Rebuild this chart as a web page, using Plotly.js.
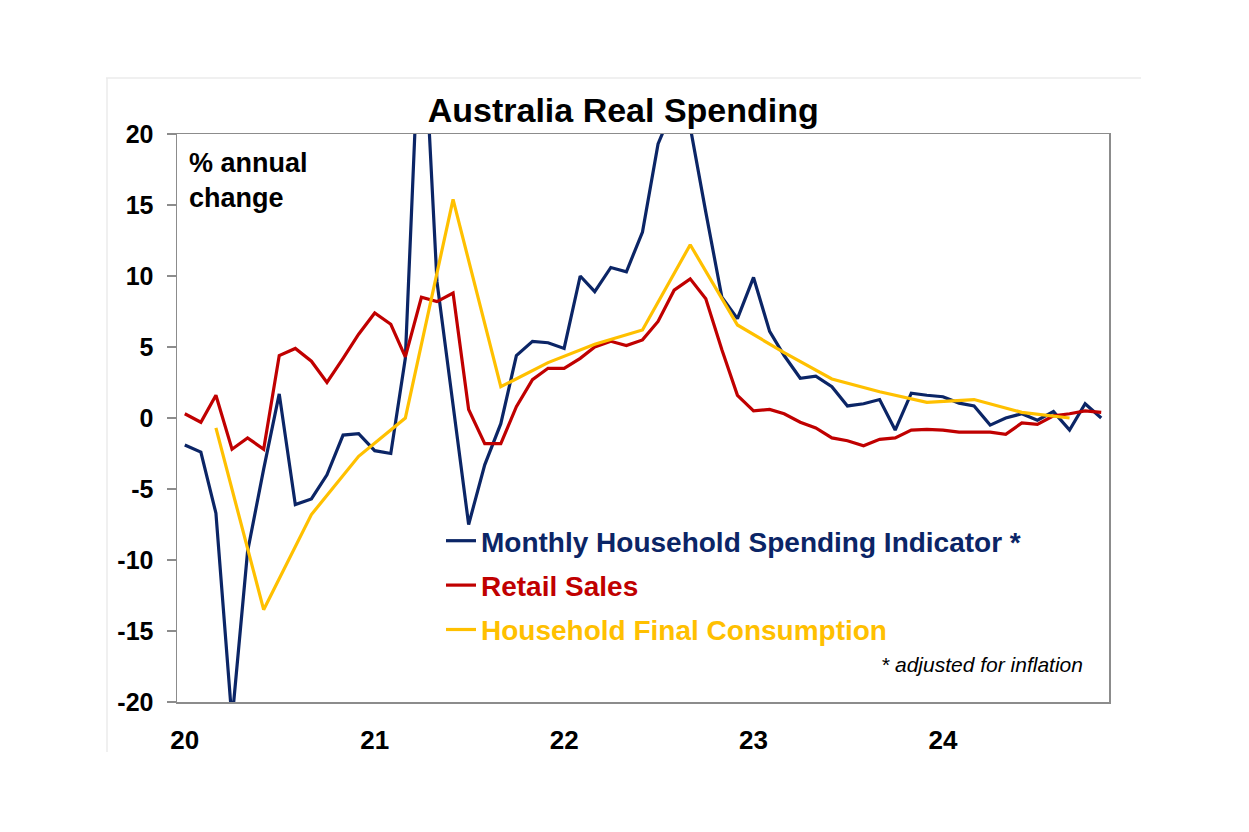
<!DOCTYPE html>
<html>
<head>
<meta charset="utf-8">
<script src="https://cdn.plot.ly/plotly-3.0.1.min.js"></script>
<style>html,body{margin:0;padding:0;background:#fff;}#chart{width:1249px;height:832px;}</style>
</head>
<body>
<div id="chart"></div>
<script>
// Monthly categories: Jan 2020 .. Nov 2024 (mid-month positions)
const startYear = 2020, nMonths = 59;
const months = [];
for (let i = 0; i < nMonths; i++) {
  const y = startYear + Math.floor(i / 12), m = (i % 12) + 1;
  months.push(y + '-' + String(m).padStart(2, '0') + '-16');
}

// Monthly Household Spending Indicator (real, % y/y)
const mhsi = [-1.9, -2.4, -6.7, -21.3, -9.4, -3.6, 1.7, -6.1, -5.7, -4.0, -1.2, -1.1,
  -2.3, -2.5, 4.2, 31.0, 9.6, 1.0, -7.5, -3.3, -0.4, 4.4, 5.4, 5.3,
  4.9, 10.0, 8.9, 10.6, 10.3, 13.1, 19.3, 22.0, 20.5, 14.5, 8.5, 7.0,
  9.9, 6.1, 4.4, 2.8, 2.95, 2.2, 0.85, 1.0, 1.3, -0.85, 1.75, 1.6,
  1.5, 1.05, 0.85, -0.5, 0.0, 0.3, -0.15, 0.45, -0.85, 1.0, 0.0];

// Retail Sales (real, % y/y)
const retail = [0.3, -0.3, 1.6, -2.2, -1.4, -2.2, 4.4, 4.9, 4.0, 2.5, 4.2, 5.9,
  7.4, 6.6, 4.3, 8.5, 8.2, 8.8, 0.6, -1.8, -1.8, 0.8, 2.7, 3.5,
  3.5, 4.2, 5.0, 5.4, 5.1, 5.5, 6.8, 9.0, 9.8, 8.4, 4.8, 1.6,
  0.5, 0.6, 0.3, -0.3, -0.7, -1.4, -1.6, -1.95, -1.5, -1.4, -0.85, -0.8,
  -0.85, -1.0, -1.0, -1.0, -1.15, -0.35, -0.45, 0.15, 0.3, 0.5, 0.4];

// Household Final Consumption (quarterly, % y/y)
const hfcDates = ['2020-03-16','2020-06-16','2020-09-16','2020-12-16',
  '2021-03-16','2021-06-16','2021-09-16','2021-12-16',
  '2022-03-16','2022-06-16','2022-09-16','2022-12-16',
  '2023-03-16','2023-06-16','2023-09-16','2023-12-16',
  '2024-03-16','2024-06-16','2024-09-16'];
const hfc = [-0.7, -13.5, -6.8, -2.7, 0.0, 15.4, 2.2, 3.9, 5.2, 6.2, 12.2, 6.55,
  4.6, 2.75, 1.85, 1.1, 1.3, 0.4, 0.0];

const yearLabels = ['20', '21', '22', '23', '24'];
const yearLabelPos = ['2020-01-16', '2021-01-16', '2022-01-16', '2023-01-16', '2024-01-16'];
const yearBounds = ['2021-01-01', '2022-01-01', '2023-01-01', '2024-01-01'];
const yTickVals = [-20, -15, -10, -5, 0, 5, 10, 15, 20];
const yTickText = ['-20', '-15', '-10', '-5', '0', '5', '10', '15', '20'];

const navy = '#0b2566', red = '#c00000', gold = '#ffc000';
const FONT = 'Liberation Sans, Arial, sans-serif';
const xRange = ['2020-01-01', '2024-12-01'];

const traces = [
  {x: months, y: mhsi, type: 'scatter', mode: 'lines',
   name: '<span style="color:' + navy + '">Monthly Household Spending Indicator *</span>',
   line: {color: navy, width: 3.2}},
  {x: months, y: retail, type: 'scatter', mode: 'lines',
   name: '<span style="color:' + red + '">Retail Sales</span>',
   line: {color: red, width: 3.2}},
  {x: hfcDates, y: hfc, type: 'scatter', mode: 'lines',
   name: '<span style="color:' + gold + '">Household Final Consumption</span>',
   line: {color: gold, width: 3.2}}
];
traces.forEach((t, i) => { t.legendgroup = 'g' + i; });

const layout = {
  width: 1249, height: 832,
  paper_bgcolor: '#fff', plot_bgcolor: '#fff',
  margin: {l: 177, r: 140, t: 134, b: 130},
  font: {family: FONT, color: '#000'},
  title: {text: 'Australia Real Spending', font: {family: FONT, size: 34, weight: 'bold', color: '#000'},
          xref: 'container', x: 0.499, yref: 'container', y: 1 - 110 / 832, yanchor: 'middle', xanchor: 'center'},
  showlegend: true,
  legend: {x: (441 - 177) / 932, xanchor: 'left', y: (702 - 516) / 568, yanchor: 'top',
           font: {family: FONT, size: 28, weight: 'bold'}, bgcolor: 'rgba(0,0,0,0)',
           traceorder: 'grouped', tracegroupgap: 5, itemwidth: 30},
  xaxis: {type: 'date', range: xRange, tickvals: yearLabelPos, ticktext: yearLabels,
          ticks: '', showgrid: false, zeroline: false,
          showline: true, mirror: true, linecolor: '#8c8c8c', linewidth: 1.5,
          tickfont: {family: FONT, size: 26, weight: 'bold', color: '#000'},
          ticklabelstandoff: 14},
  xaxis2: {type: 'date', range: xRange, overlaying: 'x', anchor: 'free', position: 0.5,
           tickvals: yearBounds, ticks: 'outside', ticklen: 7, tickwidth: 1.5, tickcolor: '#8c8c8c',
           showticklabels: false, showgrid: false, zeroline: false,
           showline: true, linecolor: '#8c8c8c', linewidth: 1.5},
  yaxis: {range: [-20, 20], tickvals: yTickVals, ticktext: yTickText,
          ticks: 'outside', ticklen: 9, tickwidth: 1.5, tickcolor: '#8c8c8c',
          showgrid: false, zeroline: false, showline: true, mirror: true,
          linecolor: '#8c8c8c', linewidth: 1.5,
          tickfont: {family: FONT, size: 25, weight: 'bold', color: '#000'},
          ticklabelstandoff: 8},
  annotations: [
    {text: '% annual<br>change', xref: 'paper', yref: 'paper', x: (187 - 177) / 932, y: (702 - 146) / 568,
     xanchor: 'left', yanchor: 'top', align: 'left', showarrow: false,
     font: {family: FONT, size: 27, weight: 'bold', color: '#000'}},
    {text: '* adjusted for inflation', xref: 'paper', yref: 'paper', x: (1085 - 177) / 932, y: (702 - 664) / 568,
     xanchor: 'right', yanchor: 'middle', showarrow: false,
     font: {family: FONT, size: 21, style: 'italic', color: '#000'}}
  ],
  shapes: [
    {type: 'line', xref: 'paper', yref: 'paper', x0: (106 - 177) / 932, x1: (1141 - 177) / 932,
     y0: (702 - 78) / 568, y1: (702 - 78) / 568, line: {color: '#ebebeb', width: 1.5}},
    {type: 'line', xref: 'paper', yref: 'paper', x0: (107 - 177) / 932, x1: (107 - 177) / 932,
     y0: (702 - 78) / 568, y1: (702 - 752) / 568, line: {color: '#ebebeb', width: 1.5}}
  ]
};

Plotly.newPlot('chart', traces, layout, {displayModeBar: false, staticPlot: true});
</script>
</body>
</html>
